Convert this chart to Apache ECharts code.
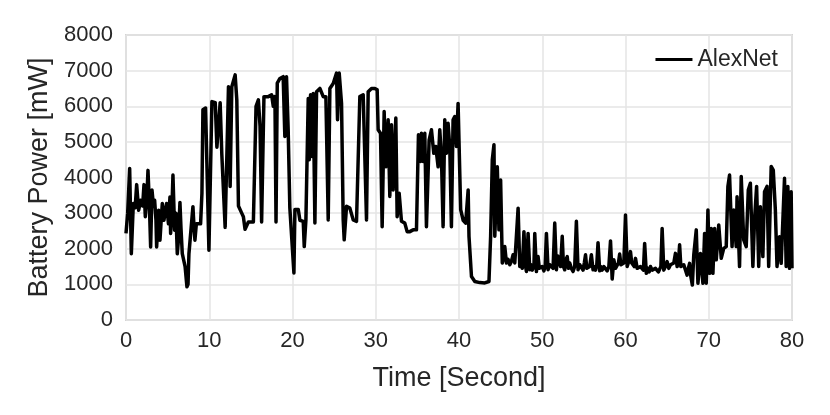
<!DOCTYPE html>
<html>
<head>
<meta charset="utf-8">
<script src="https://cdn.jsdelivr.net/npm/echarts@6/dist/echarts.min.js"></script>
<style>
html,body{margin:0;padding:0;background:#fff;}
#chart{width:830px;height:415px;}
</style>
</head>
<body>
<div id="chart"></div>
<script>
var seriesName = "AlexNet";
var xTicks = [0, 10, 20, 30, 40, 50, 60, 70, 80];
var yTicks = [0, 1000, 2000, 3000, 4000, 5000, 6000, 7000, 8000];

var times = [
  0.0, 0.2, 0.44, 0.64, 0.88, 1.1, 1.28, 1.52, 1.76, 2.0, 2.16, 2.32, 2.5, 2.64, 2.8, 2.96, 3.12, 3.3, 3.44, 3.6, 3.68, 3.92, 4.08, 4.2, 4.36, 4.56, 4.75, 4.88, 5.1, 5.28, 5.36, 5.5, 5.64, 5.84, 6.0, 6.16, 6.28, 6.48, 6.6, 6.76, 6.9, 7.1, 7.32, 7.45, 7.56, 7.75, 8.04, 8.15, 8.28, 8.45, 8.64, 8.96, 9.12, 9.24, 9.4, 9.56, 9.76, 9.96,
  10.32, 10.72, 10.92, 11.31, 11.51, 11.91, 12.19, 12.31, 12.51, 12.71, 13.11, 13.31, 13.51, 13.9, 14.1, 14.3, 14.7, 15.3, 15.62, 15.9, 16.1, 16.29, 16.57, 17.09, 17.49, 17.69, 17.89, 18.02, 18.17, 18.49, 18.88, 19.08, 19.28, 19.48, 19.68, 19.89,
  20.17, 20.29, 20.69, 20.89, 21.29, 21.41, 21.61, 21.89, 22.01, 22.17, 22.33, 22.49, 22.69, 22.89, 23.29, 23.69, 24.01, 24.29, 24.49, 24.89, 25.29, 25.41, 25.61, 25.89, 26.09, 26.21, 26.49, 26.89, 27.29, 27.69, 28.09, 28.49, 28.73, 28.89, 29.09, 29.49, 29.89,
  30.17, 30.29, 30.57, 30.77, 31.01, 31.21, 31.49, 31.69, 31.89, 32.09, 32.41, 32.57, 32.81, 33.09, 33.49, 33.77, 34.09, 34.49, 34.89, 35.13, 35.37, 35.49, 35.69, 35.89, 36.09, 36.41, 36.69, 36.97, 37.21, 37.49, 37.69, 37.89, 38.09, 38.29, 38.49, 38.69, 38.89, 39.09, 39.29, 39.49, 39.69, 39.89,
  40.2, 40.5, 40.8, 41.1, 41.2, 41.5, 41.9, 42.5, 43.1, 43.6, 43.8, 44.0, 44.2, 44.3, 44.6, 44.8,
  45.0, 45.2, 45.35, 45.5, 45.7, 45.9, 46.1, 46.3, 46.5, 46.7, 46.9, 47.1, 47.3, 47.45, 47.6, 47.8, 48.0, 48.1, 48.3, 48.5, 48.65, 48.8, 49.0, 49.1, 49.3, 49.5, 49.65, 49.8,
  50.0, 50.2, 50.35, 50.5, 50.7, 50.9, 51.1, 51.3, 51.5, 51.7, 51.85, 52.0, 52.2, 52.4, 52.55, 52.7, 52.85, 53.0, 53.15, 53.3, 53.5, 53.7, 53.9, 54.1, 54.3, 54.5, 54.7, 54.9,
  55.05, 55.2, 55.35, 55.5, 55.7, 55.9, 56.1, 56.25, 56.4, 56.55, 56.7, 56.9, 57.05, 57.2, 57.4, 57.6, 57.8, 58.0, 58.2, 58.4, 58.6, 58.8, 59.0, 59.15, 59.3, 59.45, 59.6, 59.8,
  60.0, 60.2, 60.4, 60.6, 60.75, 60.9, 61.05, 61.2, 61.4, 61.6, 61.8, 62.0, 62.15, 62.3, 62.5, 62.7, 62.85, 63.0, 63.2, 63.4, 63.6, 63.8, 63.95, 64.1, 64.25, 64.4, 64.6, 64.8,
  65.0, 65.2, 65.4, 65.6, 65.8, 66.0, 66.2, 66.35, 66.5, 66.65, 66.8, 67.0, 67.2, 67.4, 67.55, 67.7, 67.85, 68.03, 68.2, 68.5, 68.7, 69.0, 69.3, 69.5, 69.7, 69.9,
  70.1, 70.3, 70.5, 70.7, 70.9, 71.2, 71.5, 71.8, 72.1, 72.3, 72.5, 72.8, 73.0, 73.3, 73.4, 73.7, 73.9, 74.2, 74.5, 74.75, 75.0, 75.3, 75.5, 75.75, 76.0, 76.2, 76.5, 76.7, 77.0, 77.2, 77.5, 77.75, 78.0, 78.2, 78.5, 78.7, 79.1, 79.3, 79.5, 79.7, 79.9, 80.0
];

var power = [
  2430, 3000, 4250, 1860, 3270, 3150, 3800, 3080, 3360, 3200, 3800, 2900, 3400, 4200, 3300, 2050, 3650, 3200, 3360, 2800, 2050, 3080, 2240, 2700, 3270, 2800, 3100, 3270, 2700, 3450, 2430, 3000, 4070, 2520, 3000, 1860, 2200, 3300, 2600, 1860, 1900, 1500, 930, 1000, 1860, 1900, 3180, 2700, 2240, 2700, 2700, 2700, 3550, 5900, 5850, 5950, 6000, 1960,
  6130, 6100, 4850, 6100, 4650, 2600, 5350, 6550, 3750, 6550, 6880, 6180, 3200, 3000, 2900, 2550, 2750, 2750, 6000, 6180, 5450, 2750, 6270, 6270, 6320, 6000, 6270, 2750, 6650, 6780, 6830, 5150, 6830, 5350, 3150, 3190,
  1320, 3100, 3100, 2800, 2770, 2060, 2800, 6220, 4500, 6320, 4590, 6360, 2720, 6410, 6500, 6270, 6270, 2810, 6500, 6640, 6930, 5620, 6930, 6080, 2810, 2250, 3190, 3140, 2810, 2770, 6270, 6320, 6270, 2810, 6410, 6500, 6500,
  6460, 5340, 5240, 2620, 5850, 4300, 5620, 3470, 5480, 3650, 5670, 2900, 3560, 2770, 2720, 2480, 2480, 2530, 2530, 5200, 4450, 5240, 4450, 5240, 2620, 5050, 5340, 4680, 4870, 4300, 5340, 4590, 2620, 5620, 4680, 5520, 4870, 2620, 5620, 5710, 4870, 6080,
  3100, 2800, 2720, 3650, 2350, 1220, 1080, 1050, 1040, 1080, 2350, 4500, 4920, 2350, 4300, 2530,
  3930, 1600, 1750, 2060, 1600, 1700, 1550, 1650, 1830, 1600, 1550, 3140, 1500, 1650, 1450, 2480, 1500, 1360, 2430, 1410, 1550, 1400, 1500, 2430, 1360, 1780, 1450, 1410,
  1500, 1380, 1500, 2430, 1410, 1550, 1600, 1450, 2720, 1410, 1800, 1690, 1500, 2350, 1500, 1410, 1700, 1780, 1450, 1600, 1450, 1360, 1500, 2770, 1410, 1550, 1500, 1400,
  1600, 1830, 1450, 1410, 1500, 1830, 1410, 1500, 1400, 1550, 2170, 1380, 1500, 1400, 1500, 1450, 1380, 1500, 2220, 1150, 1690, 1450, 1480, 1600, 1850, 1550, 1500, 1600,
  2950, 1500, 1650, 1920, 1600, 1590, 1500, 1730, 1450, 1400, 1500, 1450, 1400, 2150, 1310, 1450, 1350, 1500, 1400, 1360, 1450, 1500, 1350, 1360, 1500, 2570, 1400, 1500,
  1640, 1450, 1550, 1500, 1600, 1870, 1500, 1600, 2110, 1500, 1450, 1550, 1590, 1260, 1450, 1590, 1220, 980, 1830, 2530, 1030, 1870, 1030, 2430, 1030, 3090,
  1310, 2570, 1310, 2570, 1690, 2670, 1730, 2010, 2060, 3750, 4070, 2060, 3090, 2060, 3460, 1500, 4030, 2250, 2060, 3650, 3840, 1500, 2810, 3750, 1500, 3180, 1780, 3600, 3750, 1500, 4310, 4210, 3090, 1500, 2340, 1590, 3980, 1500, 3750, 1450, 3600, 1450
];

var data = times.map(function (t, i) { return [t, power[i]]; });

var chart = echarts.init(document.getElementById('chart'), null, {renderer: 'canvas'});
var fontFam = 'Arial, "Liberation Sans", Helvetica, sans-serif';
chart.setOption({
  animation: false,
  backgroundColor: '#ffffff',
  grid: {
    left: 126, right: 38, top: 35, bottom: 95,
    show: true, borderColor: '#d4d4d4', borderWidth: 2, backgroundColor: 'transparent'
  },
  legend: {
    show: true,
    right: 47, top: 43,
    icon: 'rect',
    itemWidth: 37, itemHeight: 3,
    itemGap: 10,
    textStyle: {fontFamily: fontFam, fontSize: 23, color: '#262626'},
    data: [seriesName]
  },
  xAxis: {
    type: 'value',
    min: xTicks[0], max: xTicks[xTicks.length - 1], interval: 10,
    name: 'Time [Second]',
    nameLocation: 'middle', nameGap: 45,
    nameTextStyle: {fontFamily: fontFam, fontSize: 27, color: '#262626'},
    axisLine: {show: false},
    axisTick: {show: false},
    axisLabel: {fontFamily: fontFam, fontSize: 22, color: '#262626', margin: 10},
    splitLine: {show: true, lineStyle: {color: '#e4e4e4', width: 1.5}}
  },
  yAxis: {
    type: 'value',
    min: yTicks[0], max: yTicks[yTicks.length - 1], interval: 1000,
    name: 'Battery Power [mW]',
    nameLocation: 'middle', nameGap: 73,
    nameTextStyle: {fontFamily: fontFam, fontSize: 27, color: '#262626'},
    axisLine: {show: false},
    axisTick: {show: false},
    axisLabel: {
      fontFamily: fontFam, fontSize: 22, color: '#262626', margin: 13,
      formatter: function (v) { return String(v); }
    },
    splitLine: {show: true, lineStyle: {color: '#e4e4e4', width: 1.5}}
  },
  series: [{
    name: seriesName,
    type: 'line',
    data: data,
    showSymbol: false,
    symbol: 'none',
    lineStyle: {color: '#000000', width: 3.5, join: 'round'},
    itemStyle: {color: '#000000'}
  }]
});
</script>
</body>
</html>
